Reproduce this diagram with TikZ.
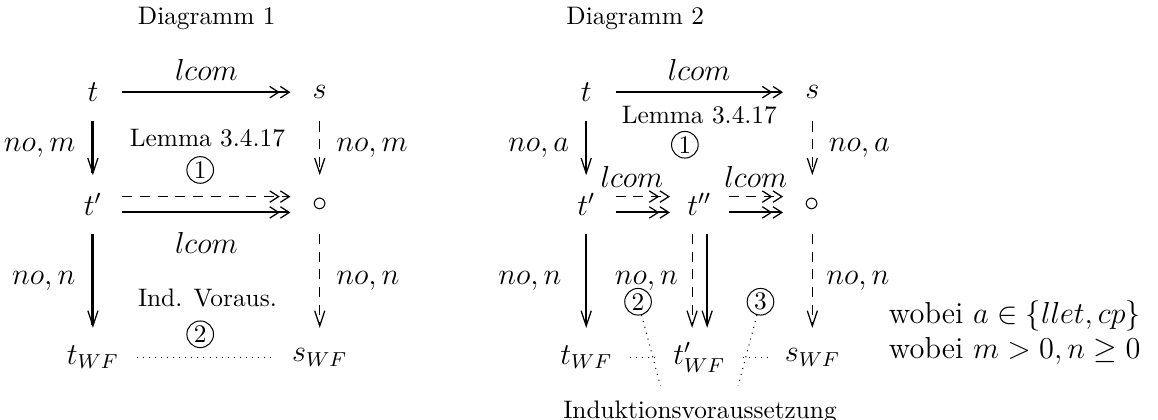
\documentclass[tikz,border=0pt]{standalone}
\usepackage{amsmath,amssymb}
\usetikzlibrary{arrows.meta,positioning}

\begin{document}
\begin{tikzpicture}[
  obj/.style={minimum width=0.8cm, minimum height=0.8cm, inner sep=0pt, font=\large},
  lab/.style={font=\large},
  num/.style={draw, circle, minimum size=0.37cm, inner sep=0pt},
  harr/.style={-{Straight Barb[length=3.5pt,width=4.5pt,line width=0.5pt]Straight Barb[length=3.5pt,width=4.5pt,line width=0.5pt]}, thick},
  varr/.style={-{Straight Barb[length=6pt,width=4pt,line width=0.5pt]}, thick},
  dsh/.style={dash pattern=on 4pt off 3pt, thin},
  dotline/.style={dotted, shorten <=0.2cm, shorten >=0.2cm}
]
\useasboundingbox (0,0) rectangle (16.08,-5.83);

% Diagramm 1
\node (title1) at (2.87,-0.25) {Diagramm 1};
\node[obj] (t1) at (1.29,-1.28) {$t$};
\node[obj] (s1) at (4.44,-1.28) {$s$};
\node[obj] (tp1) at (1.29,-2.84) {$t'$};
\node[obj] (o1) at (4.44,-2.84) {$\circ$};
\node[obj] (twf1) at (1.29,-4.96) {$t_{WF}$};
\node[obj] (swf1) at (4.44,-4.96) {$s_{WF}$};

\draw[harr] (t1) -- node[lab, above=1pt] (lc11) {$lcom$} (s1);
\draw[harr, dsh] ([yshift=0.11cm]tp1.east) -- ([yshift=0.11cm]o1.west);
\draw[harr] ([yshift=-0.11cm]tp1.east) -- node[lab, below=4pt] (lc12) {$lcom$} ([yshift=-0.11cm]o1.west);
\draw[varr, very thick] (t1) -- node[lab, left=3pt] (nm11) {$no,m$} (tp1);
\draw[varr, dsh] (s1) -- node[lab, right=3pt] (nm12) {$no,m$} (o1);
\draw[varr, very thick] (tp1) -- node[lab, left=3pt] (nn11) {$no,n$} (twf1);
\draw[varr, dsh] (o1) -- node[lab, right=3pt] (nn12) {$no,n$} (swf1);
\draw[dotline] (twf1) -- (swf1);

\node (lemma1) at (2.88,-1.92) {Lemma 3.4.17};
\node[num, below=0cm of lemma1, xshift=-0.1cm] (c11) {1};
\node (ind1) at (2.88,-4.14) {Ind. Voraus.};
\node[num, below=0.06cm of ind1, xshift=-0.1cm] (c12) {2};

% Diagramm 2
\node (title2) at (8.82,-0.25) {Diagramm 2};
\node[obj] (t2) at (8.14,-1.28) {$t$};
\node[obj] (s2) at (11.28,-1.28) {$s$};
\node[obj] (tp2) at (8.14,-2.84) {$t'$};
\node[obj] (tpp2) at (9.71,-2.84) {$t''$};
\node[obj] (o2) at (11.28,-2.84) {$\circ$};
\node[obj] (twf2) at (8.14,-4.96) {$t_{WF}$};
\node[obj] (tpwf2) at (9.71,-4.96) {$t'_{WF}$};
\node[obj] (swf2) at (11.28,-4.96) {$s_{WF}$};

\draw[harr] (t2) -- node[lab, above=1pt] (lc21) {$lcom$} node[below=2pt] (lemma2) {Lemma 3.4.17} (s2);
\draw[harr, dsh] ([yshift=0.11cm]tp2.east) -- node[lab, above=0pt, xshift=-0.15cm] (lc22) {$lcom$} ([yshift=0.11cm]tpp2.west);
\draw[harr] ([yshift=-0.11cm]tp2.east) -- ([yshift=-0.11cm]tpp2.west);
\draw[harr, dsh] ([yshift=0.11cm]tpp2.east) -- node[lab, above=0pt] (lc23) {$lcom$} ([yshift=0.11cm]o2.west);
\draw[harr] ([yshift=-0.11cm]tpp2.east) -- ([yshift=-0.11cm]o2.west);
\draw[varr] (t2) -- node[lab, left=3pt] (na21) {$no,a$} (tp2);
\draw[varr, dsh] (s2) -- node[lab, right=3pt] (na22) {$no,a$} (o2);
\draw[varr] (tp2) -- node[lab, left=6pt] (nn21) {$no,n$} (twf2);
\draw[varr, dsh] ([xshift=-0.1cm]tpp2.south) -- node[lab, left=2pt] (nn22) {$no,n$} ([xshift=-0.1cm]tpwf2.north);
\draw[varr] ([xshift=0.11cm]tpp2.south) -- ([xshift=0.11cm]tpwf2.north);
\draw[varr, dsh] (o2) -- node[lab, right=2pt] (nn23) {$no,n$} (swf2);
\draw[dotline] (twf2) -- (tpwf2);
\draw[dotline] (tpwf2) -- (swf2);

\node[num] (c21) at (9.51,-2.01) {1};
\node[num] (c22) at (8.86,-4.19) {2};
\node[num] (c23) at (10.56,-4.19) {3};
\node (ind2) at (9.72,-5.72) {Induktionsvoraussetzung};
\draw[dotted] (c22) -- ([xshift=-0.55cm, yshift=0.08cm]ind2.north);
\draw[dotted] (c23) -- ([xshift=0.53cm, yshift=0.08cm]ind2.north);

\node[anchor=west, align=left, font=\large] (wobei) at (12.22,-4.62) {wobei $a\in\{llet,cp\}$\\ wobei $m>0, n\geq 0$};
\end{tikzpicture}
\end{document}
